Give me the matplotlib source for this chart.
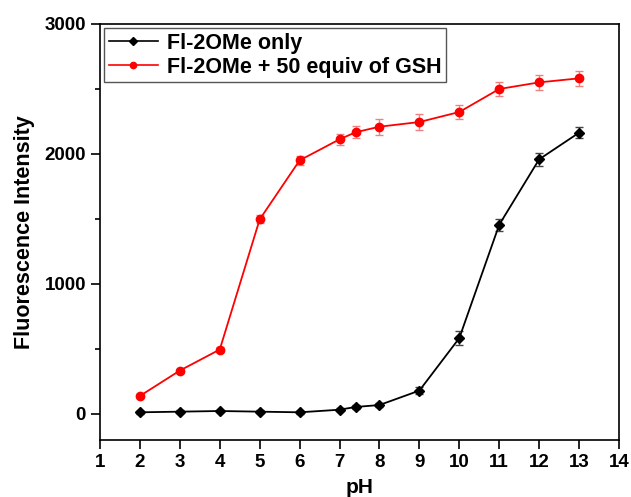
import matplotlib
matplotlib.use("Agg")
import matplotlib.pyplot as plt
from matplotlib.lines import Line2D
from matplotlib.ticker import MultipleLocator

plt.rcParams['font.family'] = ['Liberation Sans', 'DejaVu Sans']
plt.rcParams['font.weight'] = 'bold'

# pH values and fluorescence readings
ph = [2, 3, 4, 5, 6, 7, 7.4, 8, 9, 10, 11, 12, 13]
probe_only = [13, 18, 23, 18, 13, 33, 54, 69, 180, 584, 1456, 1959, 2164]
probe_only_err = [10, 10, 10, 10, 10, 12, 15, 15, 25, 55, 45, 50, 40]
probe_gsh = [139, 334, 496, 1497, 1951, 2113, 2167, 2210, 2246, 2323, 2500, 2551, 2582]
probe_gsh_err = [12, 15, 20, 30, 35, 40, 45, 60, 60, 55, 55, 55, 60]
labels = ['Fl-2OMe only', 'Fl-2OMe + 50 equiv of GSH']

fig = plt.figure(figsize=(6.31, 4.97), dpi=100)
ax = fig.add_axes([100 / 631, 1 - 440 / 497, 519 / 631, 416 / 497])

# black series: probe alone
ax.errorbar(ph, probe_only, yerr=probe_only_err, color='black', marker='D',
            markersize=5, linewidth=1.3, ecolor='#444444', elinewidth=1,
            capsize=3, zorder=3)
# red series: probe + GSH
ax.errorbar(ph, probe_gsh, yerr=probe_gsh_err, color='#ff0000', marker='o',
            markersize=6, linewidth=1.3, ecolor='#f08080', elinewidth=1,
            capsize=3, zorder=3)

ax.set_xlim(1, 14)
ax.set_ylim(-200, 3000)
ax.xaxis.set_major_locator(MultipleLocator(1))
ax.yaxis.set_major_locator(MultipleLocator(1000))
ax.yaxis.set_minor_locator(MultipleLocator(500))
ax.tick_params(which='both', direction='out', top=False, right=False,
               labelsize=13.5, width=1.2)
ax.tick_params(which='major', length=6.5)
ax.tick_params(which='minor', length=3.5)
for s in ax.spines.values():
    s.set_linewidth(1.2)

ax.set_xlabel('pH', fontsize=15, fontweight='bold', labelpad=5)
ax.set_ylabel('Fluorescence Intensity', fontsize=15.5, fontweight='bold',
              labelpad=7)

# legend handles without error bars, small markers
handles = [Line2D([], [], color='black', marker='D', markersize=4, linewidth=1.2),
           Line2D([], [], color='#ff0000', marker='o', markersize=4.5, linewidth=1.2)]
leg = ax.legend(handles, labels, loc='upper left', fontsize=15.5,
                handlelength=2.3, handletextpad=0.4,
                fancybox=False, edgecolor='#555555', framealpha=1,
                borderaxespad=0.2, borderpad=0.2, labelspacing=0.15)
leg.get_frame().set_linewidth(1)

fig.savefig('out.png', dpi=100)
